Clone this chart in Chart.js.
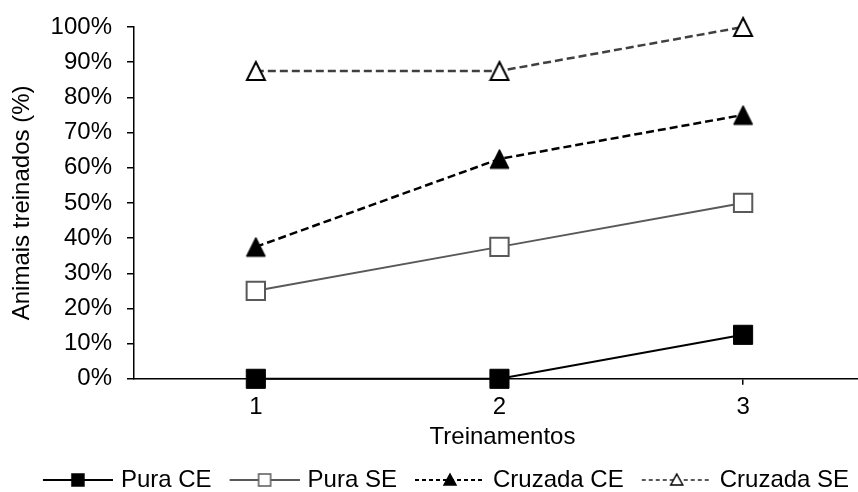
<!DOCTYPE html>
<html>
<head>
<meta charset="utf-8">
<script src="https://cdn.jsdelivr.net/npm/chart.js@4.4.0/dist/chart.umd.min.js"></script>
<style>
  html, body { margin: 0; padding: 0; background: #fff; overflow: hidden; }
  #wrap { width: 858px; height: 492px; overflow: hidden; }
</style>
</head>
<body>
<div id="wrap"><canvas id="chart" width="886" height="502"></canvas></div>
<script>
const treinamentos = [1, 2, 3];
const puraCE = [0, 0, 12.5];
const puraSE = [25, 37.5, 50];
const cruzadaCE = [37.5, 62.5, 75];
const cruzadaSE = [87.5, 87.5, 100];
const yTicks = [0, 10, 20, 30, 40, 50, 60, 70, 80, 90, 100];

const FONT = 'Liberation Sans, Arial, sans-serif';
const GRAY = '#595959';

// legend symbol: short line with a small marker; 10px blank on the left
function legendSymbol(lineColor, dash, shape, fill, stroke) {
  const c = document.createElement('canvas');
  c.width = 80; c.height = 20;
  const g = c.getContext('2d');
  g.strokeStyle = lineColor;
  g.lineWidth = 2;
  g.setLineDash(dash);
  g.beginPath(); g.moveTo(10, 10); g.lineTo(80, 10); g.stroke();
  g.setLineDash([]);
  g.fillStyle = fill;
  g.strokeStyle = stroke;
  g.lineWidth = 1.5;
  g.beginPath();
  if (shape === 'rect') {
    g.rect(39, 4, 12, 12);
  } else {
    g.moveTo(45, 4); g.lineTo(51, 15); g.lineTo(39, 15); g.closePath();
  }
  g.fill(); g.stroke();
  return c;
}

// triangle marker centred on the value
function triangle(size, fill, stroke, lw) {
  const c = document.createElement('canvas');
  c.width = size + 4; c.height = size + 4;
  const g = c.getContext('2d');
  g.fillStyle = fill; g.strokeStyle = stroke; g.lineWidth = lw;
  g.beginPath();
  g.moveTo(c.width / 2, 2); g.lineTo(c.width - 2, c.height - 2); g.lineTo(2, c.height - 2); g.closePath();
  g.fill(); g.stroke();
  return c;
}

const symbols = [
  legendSymbol('#000', [], 'rect', '#000', '#000'),
  legendSymbol(GRAY, [], 'rect', '#fff', GRAY),
  legendSymbol('#000', [4, 3], 'tri', '#000', '#000'),
  legendSymbol(GRAY, [4, 3], 'tri', '#fff', '#000')
];

const toPoints = arr => arr.map((v, i) => ({x: treinamentos[i], y: v}));

const data = {
  datasets: [
    {
      label: 'Pura CE',
      data: toPoints(puraCE),
      borderColor: '#000',
      borderWidth: 2,
      pointStyle: 'rect',
      pointRadius: 13.5,
      pointBackgroundColor: '#000',
      pointBorderColor: '#000',
      pointBorderWidth: 1
    },
    {
      label: 'Pura SE',
      data: toPoints(puraSE),
      borderColor: GRAY,
      borderWidth: 2,
      pointStyle: 'rect',
      pointRadius: 13,
      pointBackgroundColor: '#fff',
      pointBorderColor: GRAY,
      pointBorderWidth: 2
    },
    {
      label: 'Cruzada CE',
      data: toPoints(cruzadaCE),
      borderColor: '#000',
      borderWidth: 2.5,
      borderDash: [8, 4],
      pointStyle: triangle(19, '#000', '#000', 1),
      pointRadius: 11
    },
    {
      label: 'Cruzada SE',
      data: toPoints(cruzadaSE),
      borderColor: '#404040',
      borderWidth: 2.5,
      borderDash: [8, 4],
      pointStyle: triangle(18, '#fff', '#000', 2),
      pointRadius: 11
    }
  ]
};

const config = {
  type: 'line',
  data: data,
  options: {
    responsive: false,
    animation: false,
    clip: false,
    layout: {
      padding: {top: 27, right: 0, bottom: 0, left: 0}
    },
    scales: {
      x: {
        type: 'linear',
        min: 0.5,
        max: 3.525,
        afterBuildTicks: scale => { scale.ticks = treinamentos.map(v => ({value: v})); },
        border: {color: '#000', width: 1.5},
        grid: {drawOnChartArea: false, drawTicks: true, tickLength: 6, color: '#000', lineWidth: 1.5},
        ticks: {color: '#000', font: {family: FONT, size: 24}, padding: 8},
        title: {display: true, text: 'Treinamentos', color: '#000', font: {family: FONT, size: 24}, padding: {top: -7, bottom: 4.6}}
      },
      y: {
        min: 0,
        max: 100,
        afterBuildTicks: scale => { scale.ticks = yTicks.map(v => ({value: v})); },
        afterFit: scale => { scale.width = 134; scale.paddingTop = 0; scale.paddingBottom = 0; },
        border: {color: '#000', width: 1.5},
        grid: {drawOnChartArea: false, drawTicks: true, tickLength: 7, color: '#000', lineWidth: 1.5},
        ticks: {color: '#000', font: {family: FONT, size: 24}, padding: 15, callback: v => v + '%'},
        title: {display: true, text: 'Animais treinados (%)', color: '#000', font: {family: FONT, size: 24}, padding: {top: 8, bottom: 0}}
      }
    },
    plugins: {
      legend: {
        position: 'bottom',
        labels: {
          usePointStyle: true,
          pointStyleWidth: 72,
          padding: 12,
          color: '#000',
          font: {family: FONT, size: 24},
          generateLabels: chart => chart.data.datasets.map((ds, i) => ({
            text: ds.label,
            pointStyle: symbols[i],
            fillStyle: 'transparent',
            strokeStyle: 'transparent',
            lineWidth: 0,
            hidden: false,
            datasetIndex: i
          }))
        }
      },
      tooltip: {enabled: false}
    }
  }
};

const myChart = new Chart(document.getElementById('chart'), config);
</script>
</body>
</html>
